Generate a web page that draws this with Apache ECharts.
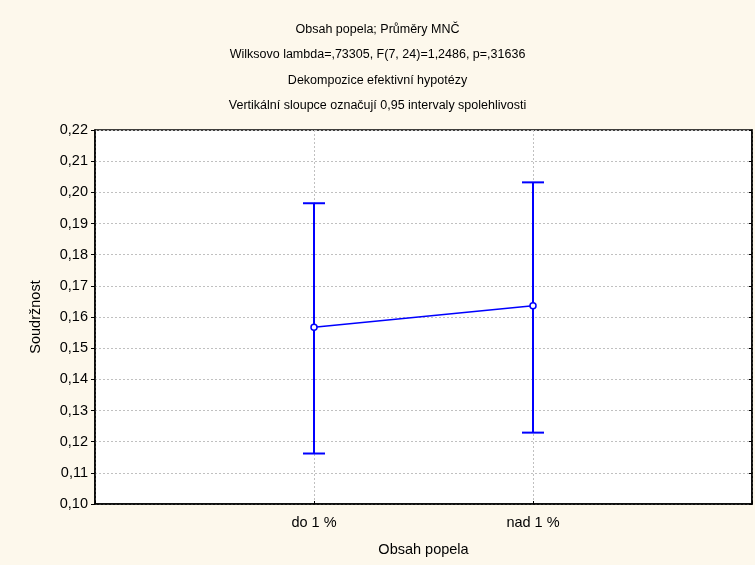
<!DOCTYPE html>
<html>
<head>
<meta charset="utf-8">
<script src="https://cdn.jsdelivr.net/npm/echarts@6/dist/echarts.min.js"></script>
<style>html,body{margin:0;padding:0;background:#FDF8EC;}#c{width:755px;height:565px;}</style>
</head>
<body>
<div id="c"></div>
<script>
const categories = ['do 1 %', 'nad 1 %'];
const means = [0.1567, 0.1636];
const lower = [0.1162, 0.1229];
const upper = [0.1965, 0.2032];
const yTicks = [0.10, 0.11, 0.12, 0.13, 0.14, 0.15, 0.16, 0.17, 0.18, 0.19, 0.20, 0.21, 0.22];
const titleLines = [
  'Obsah popela; Průměry MNČ',
  'Wilksovo lambda=,73305, F(7, 24)=1,2486, p=,31636',
  'Dekompozice efektivní hypotézy',
  'Vertikální sloupce označují 0,95 intervaly spolehlivosti'
];
const xName = 'Obsah popela';
const yName = 'Soudržnost';

const FONT = 'Liberation Sans, Arial, sans-serif';
const AX = 14.5;
const BLUE = '#0000FF';
const chart = echarts.init(document.getElementById('c'));
const pts = categories.map((c, i) => [i + 1, means[i]]);
const errs = categories.map((c, i) => [i + 1, lower[i], upper[i]]);
const fmtY = v => v.toFixed(2).replace('.', ',');

chart.setOption({
  backgroundColor: '#FDF8EC',
  animation: false,
  title: {
    text: titleLines.join('\n'),
    left: 'center',
    top: 12,
    textStyle: { fontFamily: FONT, fontSize: 12.5, fontWeight: 'normal', color: '#000', lineHeight: 25.3 }
  },
  grid: { left: 95, right: 3, top: 130, bottom: 61, show: true, backgroundColor: '#fff', borderColor: '#000', borderWidth: 1.5 },
  xAxis: {
    type: 'value', min: 0, max: 3, interval: 1,
    name: xName, nameLocation: 'middle', nameGap: 38,
    nameTextStyle: { fontFamily: FONT, fontSize: AX, color: '#000' },
    axisLine: { lineStyle: { color: '#000', width: 1.5 } },
    axisTick: { inside: true, length: 3, lineStyle: { color: '#000' } },
    axisLabel: { fontFamily: FONT, fontSize: AX, color: '#000', margin: 11,
      formatter: v => categories[Math.round(v) - 1] || '' },
    splitLine: { show: true, lineStyle: { color: '#c0c0c0', type: [2, 2] } }
  },
  yAxis: [{
    type: 'value', min: yTicks[0], max: yTicks[yTicks.length - 1], interval: 0.01,
    name: yName, nameLocation: 'middle', nameGap: 52, nameRotate: 90,
    nameTextStyle: { fontFamily: FONT, fontSize: AX, color: '#000' },
    axisLine: { show: true, lineStyle: { color: '#000', width: 1.5 } },
    axisTick: { show: true, length: 4, lineStyle: { color: '#000' } },
    axisLabel: { fontFamily: FONT, fontSize: AX, color: '#000', margin: 7, formatter: fmtY },
    splitLine: { show: true, lineStyle: { color: '#c0c0c0', type: [2, 2] } }
  }, {
    type: 'value', min: yTicks[0], max: yTicks[yTicks.length - 1], interval: 0.01, position: 'right',
    axisLine: { show: true, lineStyle: { color: '#000', width: 1.5 } },
    axisTick: { show: true, inside: true, length: 3, lineStyle: { color: '#000' } },
    axisLabel: { show: false },
    splitLine: { show: false }
  }],
  series: [{
    type: 'custom',
    data: errs,
    z: 3,
    renderItem: function (params, api) {
      const x = api.value(0);
      const lo = api.coord([x, api.value(1)]);
      const hi = api.coord([x, api.value(2)]);
      const hw = 11;
      const style = { stroke: BLUE, lineWidth: 2 };
      return {
        type: 'group',
        children: [
          { type: 'line', shape: { x1: lo[0], y1: lo[1], x2: hi[0], y2: hi[1] }, style },
          { type: 'line', shape: { x1: lo[0] - hw, y1: lo[1], x2: lo[0] + hw, y2: lo[1] }, style },
          { type: 'line', shape: { x1: hi[0] - hw, y1: hi[1], x2: hi[0] + hw, y2: hi[1] }, style }
        ]
      };
    }
  }, {
    type: 'line',
    data: pts,
    z: 4,
    symbol: 'circle',
    symbolSize: 6,
    lineStyle: { color: BLUE, width: 1.5 },
    itemStyle: { color: '#fff', borderColor: BLUE, borderWidth: 1.5 }
  }]
});
</script>
</body>
</html>
